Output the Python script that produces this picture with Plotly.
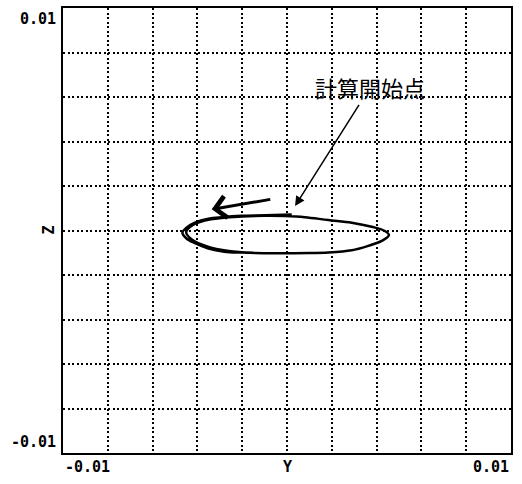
import plotly.graph_objects as go

# Orbit trace (Y, Z)
orbit_y = [0.00021, -0.00098, -0.00202, -0.00290, -0.00351, -0.00411, -0.00450, -0.00467,
           -0.00450, -0.00411, -0.00351, -0.00280, -0.00202, -0.00054, 0.00100, 0.00184,
           0.00289, 0.00363, 0.00423, 0.00455, 0.00437, 0.00378, 0.00289, 0.00184, 0.00080,
           -0.00009, -0.00100, -0.00200, -0.00340, -0.00420, -0.00450, -0.00425, -0.00360,
           -0.00260, -0.00150]
orbit_z = [0.00072, 0.00068, 0.00066, 0.00060, 0.00053, 0.00035, 0.00012, -0.00010,
           -0.00035, -0.00057, -0.00081, -0.00095, -0.00099, -0.00102, -0.00101, -0.00099,
           -0.00089, -0.00069, -0.00047, -0.00021, -0.00002, 0.00017, 0.00035, 0.00047, 0.00060,
           0.00065, 0.00066, 0.00063, 0.00050, 0.00025, -0.00008, -0.00040, -0.00070,
           -0.00092, -0.00100]

axis_range = [-0.01, 0.01]
grid_step = 0.002
x_tick_labels = ["-0.01", "0.01"]
y_tick_labels = ["0.01", "-0.01"]
x_title = "Y"
y_title = "Z"
start_label = "計算開始点"
start_point = (0.00036, 0.0011)
label_pos = (0.00371, 0.00643)
dir_arrow_tip = (-0.00336, 0.00095)
dir_arrow_tail = (-0.00068, 0.00141)

mono = "DejaVu Sans Mono"

fig = go.Figure()
fig.add_trace(go.Scatter(x=orbit_y, y=orbit_z, mode="lines",
                         line=dict(color="black", width=2.5, shape="spline"),
                         showlegend=False, hoverinfo="skip"))

axis_common = dict(range=axis_range, dtick=grid_step, tick0=axis_range[0],
                   showgrid=True, gridcolor="black", gridwidth=1.6, griddash="2px,2.5px",
                   showline=True, linecolor="black", linewidth=2, mirror=True,
                   showticklabels=False, ticks="", zeroline=False, fixedrange=True)
fig.update_xaxes(**axis_common)
fig.update_yaxes(**axis_common)

ann = []
tf = dict(family=mono, size=15, color="black", weight="bold")
# y tick labels
ann.append(dict(xref="paper", yref="paper", x=0, y=1, xanchor="right", yanchor="top",
                xshift=-5, text=y_tick_labels[0], showarrow=False, font=tf))
ann.append(dict(xref="paper", yref="paper", x=0, y=0, xanchor="right", yanchor="bottom",
                xshift=-5, text=y_tick_labels[1], showarrow=False, font=tf))
# x tick labels
ann.append(dict(xref="paper", yref="paper", x=0, y=0, xanchor="left", yanchor="top",
                yshift=-3, text=x_tick_labels[0], showarrow=False, font=tf))
ann.append(dict(xref="paper", yref="paper", x=1, y=0, xanchor="right", yanchor="top",
                yshift=-3, text=x_tick_labels[1], showarrow=False, font=tf))
# axis titles
ann.append(dict(xref="paper", yref="paper", x=0.5, y=0, xanchor="center", yanchor="top",
                yshift=-3, text=x_title, showarrow=False, font=tf))
ann.append(dict(xref="paper", yref="paper", x=0, y=0.5, xanchor="center", yanchor="middle",
                xshift=-15, text=y_title, textangle=-90, showarrow=False, font=tf))
# start point label with pointer
ann.append(dict(xref="x", yref="y", x=start_point[0], y=start_point[1],
                axref="x", ayref="y", ax=label_pos[0], ay=label_pos[1],
                text=start_label, showarrow=True, arrowhead=2, arrowsize=1.3,
                arrowwidth=1.5, arrowcolor="black", standoff=0,
                font=dict(family="Noto Sans CJK JP", size=22, color="black")))
# direction arrow
ann.append(dict(xref="x", yref="y", x=dir_arrow_tip[0], y=dir_arrow_tip[1],
                axref="x", ayref="y", ax=dir_arrow_tail[0], ay=dir_arrow_tail[1],
                text="", showarrow=True, arrowhead=4, arrowsize=1.4,
                arrowwidth=3, arrowcolor="black"))

fig.update_layout(width=522, height=484, margin=dict(l=63, r=11, t=6, b=31),
                  paper_bgcolor="white", plot_bgcolor="white", annotations=ann)

fig.write_html("out.html", config={"displayModeBar": False},
               post_script="document.body.style.margin='0px';document.body.style.overflow='hidden';")
